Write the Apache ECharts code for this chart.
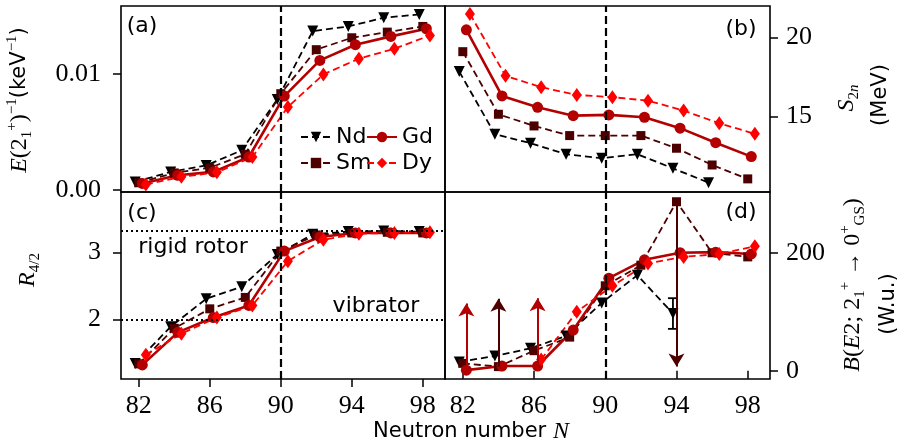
<!DOCTYPE html>
<html><head><meta charset="utf-8">
<script src="https://cdn.jsdelivr.net/npm/echarts@6/dist/echarts.min.js"></script>
<style>html,body{margin:0;padding:0;background:#fff}#c{width:910px;height:446px}</style>
</head><body><div id="c"></div>
<script>
// ---------------- data ----------------
const N = [82, 84, 86, 88, 90, 92, 94, 96, 98];
const xTicks = [82, 86, 90, 94, 98];
const isotopes = ['Nd', 'Sm', 'Gd', 'Dy'];

// (a) 1/E(2+) in keV^-1
const eInvNd = [0.00067, 0.00154, 0.00210, 0.00341, 0.0078, 0.01373, 0.01413, 0.01488, 0.01517];
const eInvSm = [0.0006, 0.00145, 0.0019, 0.00307, 0.00831, 0.01212, 0.01315, 0.01364, 0.01413];
const eInvGd = [0.00054, 0.00125, 0.00154, 0.00283, 0.0081, 0.01119, 0.01255, 0.01327, 0.01393];
const eInvDy = [0.00045, 0.00111, 0.0015, 0.00283, 0.00716, 0.00998, 0.01134, 0.0122, 0.01335];
const aTicks = [0, 0.01];

// (b) S2n in MeV
const s2nNd = [17.85, 13.89, 13.32, 12.62, 12.37, 12.62, 11.73, 10.82, null];
const s2nSm = [19.11, 15.15, 14.41, 13.80, 13.80, 13.80, 13.0, 11.94, 11.06];
const s2nGd = [20.49, 16.31, 15.59, 15.06, 15.11, 14.96, 14.27, 13.35, 12.47];
const s2nDy = [21.5, 17.58, 16.86, 16.37, 16.23, 16.01, 15.38, 14.58, 13.91];
const bTicks = [15, 20];

// (c) R4/2
const rNd = [1.345, 1.895, 2.31, 2.49, 2.97, 3.27, 3.31, 3.32, 3.31];
const rSm = [1.34, 1.87, 2.16, 2.33, 3.02, 3.26, 3.29, 3.30, 3.29];
const rGd = [1.325, 1.81, 2.03, 2.21, 3.02, 3.23, 3.29, 3.29, 3.29];
const rDy = [1.475, 1.79, 2.03, 2.21, 2.87, 3.19, 3.28, 3.29, 3.30];
const cTicks = [2, 3];
const rigidRotor = 10 / 3;
const vibrator = 2.0;

// (d) B(E2) in W.u.
const beNd = [15, 25, 38, 59, 115, 162, 97, null, null];
const beSm = [12.5, 7, 34, 57, 144, 179, 286.5, 200, 193];
const beGd = [1, 8, 8, 69, 157, 188, 200, 201, 198];
const beDy = [null, null, 19, 100, 144, 182, 193, 198, 211];
const dTicks = [0, 200];
// limits: [N, from, to]
const gdLowerLimits = [[82, 1, 114], [86, 8, 123]];
const smLowerLimits = [[84, 7, 122]];
const smUpperLimits = [[94, 286.5, 7]];
// error bars: [N, low, high]
const ndErrors = [[94, 71, 123]];

const shellN = 90;

// ---------------- styles ----------------
const OFF = {Nd: -0.2, Sm: 0, Gd: 0.2, Dy: 0.4};
const COL = {Nd: '#000000', Sm: '#4d0000', Gd: '#b30000', Dy: '#ff0000'};
const SYM = {Nd: 'triangle', Sm: 'rect', Gd: 'circle', Dy: 'diamond'};
const SSZ = {Nd: 11, Sm: 9, Gd: 11, Dy: [10, 14]};
const ROT = {Nd: 180, Sm: 0, Gd: 0, Dy: 0};
const LTYPE = {Nd: [7, 4], Sm: [7, 4], Gd: 'solid', Dy: [7, 4]};
const LW = {Nd: 1.8, Sm: 1.8, Gd: 2.6, Dy: 1.8};
const SERIF = 'Liberation Serif';
const SANS = 'DejaVu Sans';

function pts(name, vals) {
  const out = [];
  N.forEach((n, i) => { if (vals[i] != null) out.push([n + OFF[name], vals[i]]); });
  return out;
}
function mk(name, vals, gi) {
  return {
    type: 'line', name, xAxisIndex: gi, yAxisIndex: gi,
    data: pts(name, vals),
    symbol: SYM[name], symbolSize: SSZ[name], symbolRotate: ROT[name],
    itemStyle: {color: COL[name]},
    lineStyle: {color: COL[name], width: LW[name], type: LTYPE[name]},
    emphasis: {disabled: true}, animation: false
  };
}
const vline = {
  silent: true, symbol: 'none', label: {show: false}, animation: false,
  lineStyle: {color: '#000', width: 2.2, type: [8, 4]},
  data: [{xAxis: shellN}]
};

const grids = [
  {left: 121, top: 6, width: 324, height: 186},
  {left: 445, top: 6, width: 325, height: 186},
  {left: 121, top: 192, width: 324, height: 187},
  {left: 445, top: 192, width: 325, height: 187}
].map(g => Object.assign(g, {show: true, borderColor: '#000', borderWidth: 1.6, backgroundColor: 'transparent', containLabel: false}));

function xAx(gi, showLab) {
  return {
    type: 'value', gridIndex: gi, min: 81, max: 99.25,
    axisLine: {show: false}, splitLine: {show: false},
    axisTick: {show: showLab, length: 8, lineStyle: {color: '#000', width: 1.5}, customValues: xTicks},
    axisLabel: {show: showLab, customValues: xTicks, margin: 14, fontFamily: SERIF, fontSize: 26, color: '#000'}
  };
}
function yAx(gi, min, max, ticks, pos, fmt, margin) {
  return {
    type: 'value', gridIndex: gi, min, max, position: pos,
    axisLine: {show: false}, splitLine: {show: false},
    axisTick: {show: true, length: 8, lineStyle: {color: '#000', width: 1.5}, customValues: ticks},
    axisLabel: {show: true, customValues: ticks, margin, fontFamily: SERIF, fontSize: 26, color: '#000', formatter: fmt}
  };
}

const series = [];
const sets = [
  [eInvNd, eInvSm, eInvGd, eInvDy],
  [s2nNd, s2nSm, s2nGd, s2nDy],
  [rNd, rSm, rGd, rDy],
  [beNd, beSm, beGd, beDy]
];
sets.forEach((arrs, gi) => {
  isotopes.forEach((name, k) => {
    const s = mk(name, arrs[k], gi);
    if (k === 0) s.markLine = JSON.parse(JSON.stringify(vline));
    series.push(s);
  });
});
// dotted reference lines in (c)
series[8].markLine.data.push(
  {yAxis: rigidRotor, lineStyle: {type: [2, 3], width: 2, color: '#000'}},
  {yAxis: vibrator, lineStyle: {type: [2, 3], width: 2, color: '#000'}}
);
// limit arrows in (d)
function arrows(name, lims) {
  return {
    silent: true, symbol: ['none', 'arrow'], symbolSize: [12, 13], label: {show: false}, animation: false,
    lineStyle: {color: COL[name], width: 2, type: 'solid'},
    data: lims.map(l => [{coord: [l[0] + OFF[name], l[1]]}, {coord: [l[0] + OFF[name], l[2]]}])
  };
}
series[13].markLine = arrows('Sm', smLowerLimits.concat(smUpperLimits));
series[14].markLine = arrows('Gd', gdLowerLimits);
// error bar (d) Nd
series.push({
  type: 'custom', xAxisIndex: 3, yAxisIndex: 3, silent: true, animation: false, z: 3,
  data: ndErrors.map(e => [e[0] + OFF.Nd, e[1], e[2]]),
  renderItem: function (params, api) {
    const lo = api.coord([api.value(0), api.value(1)]);
    const hi = api.coord([api.value(0), api.value(2)]);
    const st = {stroke: '#000', lineWidth: 1.8};
    return {type: 'group', children: [
      {type: 'line', shape: {x1: lo[0], y1: lo[1], x2: hi[0], y2: hi[1]}, style: st},
      {type: 'line', shape: {x1: lo[0] - 5, y1: lo[1], x2: lo[0] + 5, y2: lo[1]}, style: st},
      {type: 'line', shape: {x1: hi[0] - 5, y1: hi[1], x2: hi[0] + 5, y2: hi[1]}, style: st}
    ]};
  }
});

const legendPos = {Nd: [300, 126], Gd: [366, 126], Sm: [300, 152], Dy: [366, 152]};
const legends = ['Nd', 'Gd', 'Sm', 'Dy'].map(n => ({
  data: [n], left: legendPos[n][0], top: legendPos[n][1], padding: 0,
  itemWidth: 30, itemHeight: 13, selectedMode: false,
  textStyle: {fontFamily: SANS, fontSize: 22, color: '#000'}
}));

const sup = {fontFamily: SERIF, fontSize: 15, verticalAlign: 'top', lineHeight: 30, fill: '#000'};
const sub = {fontFamily: SERIF, fontSize: 15, verticalAlign: 'bottom', lineHeight: 30, fill: '#000'};
const rich = {
  i: {fontFamily: SERIF, fontStyle: 'italic', fontSize: 24, lineHeight: 30, verticalAlign: 'middle', fill: '#000'},
  m: {fontFamily: SERIF, fontSize: 24, lineHeight: 30, verticalAlign: 'middle', fill: '#000'},
  s: {fontFamily: SANS, fontSize: 21, lineHeight: 30, verticalAlign: 'middle', fill: '#000'},
  sup, sub,
  subi: Object.assign({}, sub, {fontStyle: 'italic'})
};
function txt(x, y, text, rot, extra) {
  return {
    type: 'text', x, y, rotation: rot ? Math.PI / 2 : 0, silent: true, z: 100,
    style: Object.assign({text, rich, align: 'center', verticalAlign: 'middle', fill: '#000', fontFamily: SANS, fontSize: 22}, extra || {})
  };
}
const graphics = [
  txt(142, 26, '(a)'), txt(741, 29, '(b)'), txt(142, 213, '(c)'), txt(741, 212, '(d)'),
  txt(193, 247, 'rigid rotor'), txt(376, 306, 'vibrator'),
  txt(471, 432, '{s|Neutron number }{i|N}'),
  txt(20, 100, '{i|E}{m|(2}{sub|1}{sup|+}{m|)}{sup|−1}{s|(keV}{sup|−1}{s|)}', true),
  txt(28, 270, '{i|R}{sub|4/2}', true),
  txt(847, 98, '{i|S}{sub|2}{subi|n}', true),
  txt(881, 95, '{s|(MeV)}', true),
  txt(853, 285, '{i|B}{m|(}{i|E}{m|2; 2}{sub|1}{sup|+}{m| → 0}{sup|+}{sub|GS}{m|)}', true),
  txt(889, 304, '{s|(W.u.)}', true)
];

const chart = echarts.init(document.getElementById('c'), null, {renderer: 'canvas'});
chart.setOption({
  animation: false,
  backgroundColor: '#fff',
  grid: grids,
  legend: legends,
  xAxis: [xAx(0, false), xAx(1, false), xAx(2, true), xAx(3, true)],
  yAxis: [
    yAx(0, -0.0002, 0.0159, aTicks, 'left', v => v.toFixed(2), 20),
    yAx(1, 10.23, 22.0, bTicks, 'right', v => String(v), 16),
    yAx(2, 1.115, 3.9, cTicks, 'left', v => String(v), 20),
    yAx(3, -14, 303, dTicks, 'right', v => String(v), 16)
  ],
  series,
  graphic: graphics
});
</script></body></html>
